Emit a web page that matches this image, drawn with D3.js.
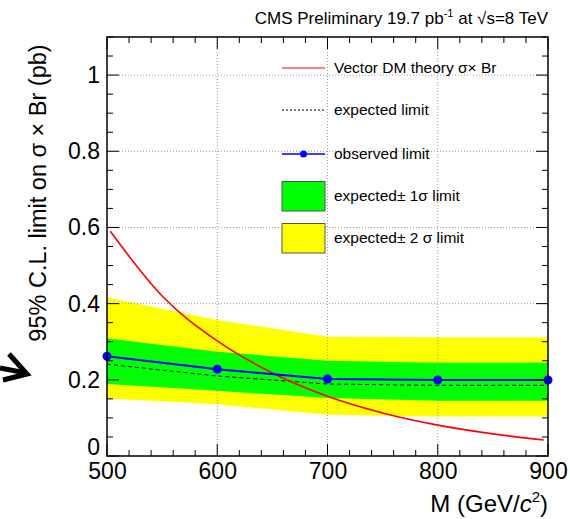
<!DOCTYPE html>
<html>
<head>
<meta charset="utf-8">
<script src="https://cdn.jsdelivr.net/npm/d3@7"></script>
<style>
  body { margin: 0; background: #fff; }
  svg text { font-family: "Liberation Sans", Arial, sans-serif; fill: #000; }
</style>
</head>
<body>
<div id="vis"></div>
<script>
/* data */
var mass = [500, 600, 700, 800, 900];
var observed = [0.262, 0.228, 0.202, 0.1995, 0.1995];
var expected = [0.241, 0.210, 0.189, 0.1855, 0.1855];
var band1Lo = [0.189, 0.171, 0.152, 0.145, 0.145];
var band1Hi = [0.309, 0.274, 0.250, 0.245, 0.245];
var band2Lo = [0.151, 0.136, 0.108, 0.104, 0.104];
var band2Hi = [0.416, 0.357, 0.313, 0.3115, 0.3115];
var theoryMass = [503, 550, 600, 650, 700, 750, 800, 850, 896];
var theoryXs = [0.590, 0.420, 0.302, 0.218, 0.157, 0.113, 0.081, 0.058, 0.042];
var xMajor = [500, 600, 700, 800, 900];
var yMajor = [0, 0.2, 0.4, 0.6, 0.8, 1];

var W = 570, H = 519;
var margin = {top: 37, right: 22, bottom: 63, left: 107};
var width = W - margin.left - margin.right,
    height = H - margin.top - margin.bottom;

var svg = d3.select('#vis').append('svg').attr('width', W).attr('height', H);
var chart = svg.append('g').attr('transform', 'translate(' + margin.left + ',' + margin.top + ')');

/* Scales */
var x = d3.scaleLinear().domain([500, 900]).range([0, width]);
var y = d3.scaleLinear().domain([0, 1.1]).range([height, 0]);

/* bands */
function band(lo, hi) {
    return d3.area()
        .x(function (d, i) { return x(mass[i]); })
        .y0(function (d, i) { return y(lo[i]); })
        .y1(function (d, i) { return y(hi[i]); })(mass);
}
chart.append('path').attr('d', band(band2Lo, band2Hi)).attr('fill', '#ffff00');
chart.append('path').attr('d', band(band1Lo, band1Hi)).attr('fill', '#00ff00');

/* grid, dotted */
var grid = chart.append('g').attr('class', 'grid');
grid.selectAll('line.gx').data(xMajor.slice(1, -1)).enter().append('line')
    .attr('x1', function (d) { return x(d); }).attr('x2', function (d) { return x(d); })
    .attr('y1', 0).attr('y2', height);
grid.selectAll('line.gy').data(yMajor.slice(1)).enter().append('line')
    .attr('y1', function (d) { return y(d); }).attr('y2', function (d) { return y(d); })
    .attr('x1', 0).attr('x2', width);
grid.selectAll('line').attr('stroke', '#9a9a9a').attr('stroke-width', 1).attr('stroke-dasharray', '1,2');

/* expected */
var line = d3.line().x(function (d, i) { return x(mass[i]); });
chart.append('path')
    .attr('d', line.y(function (d, i) { return y(expected[i]); })(mass))
    .attr('fill', 'none').attr('stroke', '#000').attr('stroke-width', 1).attr('stroke-dasharray', '4,3');

/* theory */
chart.append('path')
    .attr('d', d3.line().curve(d3.curveMonotoneX)
        .x(function (d) { return x(d); })
        .y(function (d, i) { return y(theoryXs[i]); })(theoryMass))
    .attr('fill', 'none').attr('stroke', '#ff0000').attr('stroke-width', 1.6);

/* observed */
chart.append('path')
    .attr('d', line.y(function (d, i) { return y(observed[i]); })(mass))
    .attr('fill', 'none').attr('stroke', '#0000ff').attr('stroke-width', 2);
chart.selectAll('circle.obs').data(mass).enter().append('circle')
    .attr('cx', function (d) { return x(d); })
    .attr('cy', function (d, i) { return y(observed[i]); })
    .attr('r', 4.5).attr('fill', '#0000ff');

/* Axes */
var xMinor = d3.range(500, 901, 20);
var yMinor = d3.range(0, 1.1001, 0.05);
var axX = d3.axisBottom(x).tickValues(xMajor).tickSize(0).tickPadding(5)
    .tickFormat(d3.format('d'));
var gx = chart.append('g').attr('transform', 'translate(0,' + height + ')').call(axX);
gx.select('.domain').remove();
gx.selectAll('text').attr('font-size', 23).attr('dy', '0.8em');

var axY = d3.axisLeft(y).tickValues(yMajor).tickSize(0).tickPadding(7)
    .tickFormat(function (d) { return d === 0 ? '0' : d3.format('.1~f')(d); });
var gy = chart.append('g').call(axY);
gy.select('.domain').remove();
gy.selectAll('text').attr('font-size', 23);
gy.selectAll('.tick').filter(function (d) { return d === 0; }).select('text').attr('dy', '-0.05em');

/* tick marks, both sides, inward */
var ticks = chart.append('g').attr('stroke', '#000').attr('stroke-width', 1);
xMinor.forEach(function (v) {
    var len = xMajor.indexOf(v) >= 0 ? 12 : 6;
    ticks.append('line').attr('x1', x(v)).attr('x2', x(v)).attr('y1', height).attr('y2', height - len);
    ticks.append('line').attr('x1', x(v)).attr('x2', x(v)).attr('y1', 0).attr('y2', len);
});
yMinor.forEach(function (v) {
    var isMajor = Math.abs(v * 5 - Math.round(v * 5)) < 1e-6;
    var len = isMajor ? 12 : 6;
    ticks.append('line').attr('x1', 0).attr('x2', len).attr('y1', y(v)).attr('y2', y(v));
    ticks.append('line').attr('x1', width).attr('x2', width - len).attr('y1', y(v)).attr('y2', y(v));
});

/* frame */
chart.append('rect').attr('width', width).attr('height', height)
    .attr('fill', 'none').attr('stroke', '#000').attr('stroke-width', 1.5);

/* Axis titles */
var xt = svg.append('text').attr('x', margin.left + width).attr('y', 512)
    .attr('text-anchor', 'end').attr('font-size', 24);
xt.append('tspan').text('M (GeV/');
xt.append('tspan').attr('font-style', 'italic').text('c');
xt.append('tspan').attr('font-size', 15).attr('dy', -10).text('2');
xt.append('tspan').attr('dy', 10).text(')');

svg.append('text')
    .attr('transform', 'translate(46,193) rotate(-90)')
    .attr('text-anchor', 'middle').attr('font-size', 23.5)
    .text('95% C.L. limit on \u03c3 \u00d7 Br (pb)');

/* title */
var tt = svg.append('text').attr('x', margin.left + width).attr('y', 24)
    .attr('text-anchor', 'end').attr('font-size', 17);
tt.append('tspan').text('CMS Preliminary 19.7 pb');
tt.append('tspan').attr('font-size', 11).attr('dy', -7).text('-1');
tt.append('tspan').attr('dy', 7).text(' at \u221as=8 TeV');

/* Legend */
var legend = svg.append('g').attr('class', 'legend');
var lx0 = 282, lx1 = 325, tx = 334;
var rows = [
    {y: 68, label: 'Vector DM theory \u03c3\u00d7 Br', kind: 'theory'},
    {y: 110, label: 'expected limit', kind: 'expected'},
    {y: 154, label: 'observed limit', kind: 'observed'},
    {y: 196, label: 'expected\u00b1 1\u03c3 limit', kind: 'g1'},
    {y: 238, label: 'expected\u00b1 2 \u03c3 limit', kind: 'g2'}
];
rows.forEach(function (r) {
    if (r.kind === 'theory') {
        legend.append('line').attr('x1', lx0).attr('x2', lx1).attr('y1', r.y).attr('y2', r.y)
            .attr('stroke', '#ff0000').attr('stroke-width', 1.2);
    } else if (r.kind === 'expected') {
        legend.append('line').attr('x1', lx0).attr('x2', lx1).attr('y1', r.y).attr('y2', r.y)
            .attr('stroke', '#000').attr('stroke-width', 1).attr('stroke-dasharray', '2,2');
    } else if (r.kind === 'observed') {
        legend.append('line').attr('x1', lx0).attr('x2', lx1).attr('y1', r.y).attr('y2', r.y)
            .attr('stroke', '#0000ff').attr('stroke-width', 1.5);
        legend.append('circle').attr('cx', (lx0 + lx1) / 2).attr('cy', r.y).attr('r', 3.5).attr('fill', '#0000ff');
    } else {
        legend.append('rect').attr('x', lx0).attr('y', r.y - 14.5).attr('width', lx1 - lx0).attr('height', 29.5)
            .attr('fill', r.kind === 'g1' ? '#00ff00' : '#ffff00')
            .attr('stroke', '#555').attr('stroke-width', 1);
    }
    legend.append('text').attr('x', tx).attr('y', r.y).attr('dy', '0.35em')
        .attr('font-size', 15.5).text(r.label);
});

/* stray arrow at the left edge */
svg.append('path')
    .attr('d', 'M0,368 L26,373 M9,354 L27,374 L3,380')
    .attr('fill', 'none').attr('stroke', '#000').attr('stroke-width', 5)
    .attr('stroke-linejoin', 'miter');
</script>
</body>
</html>
